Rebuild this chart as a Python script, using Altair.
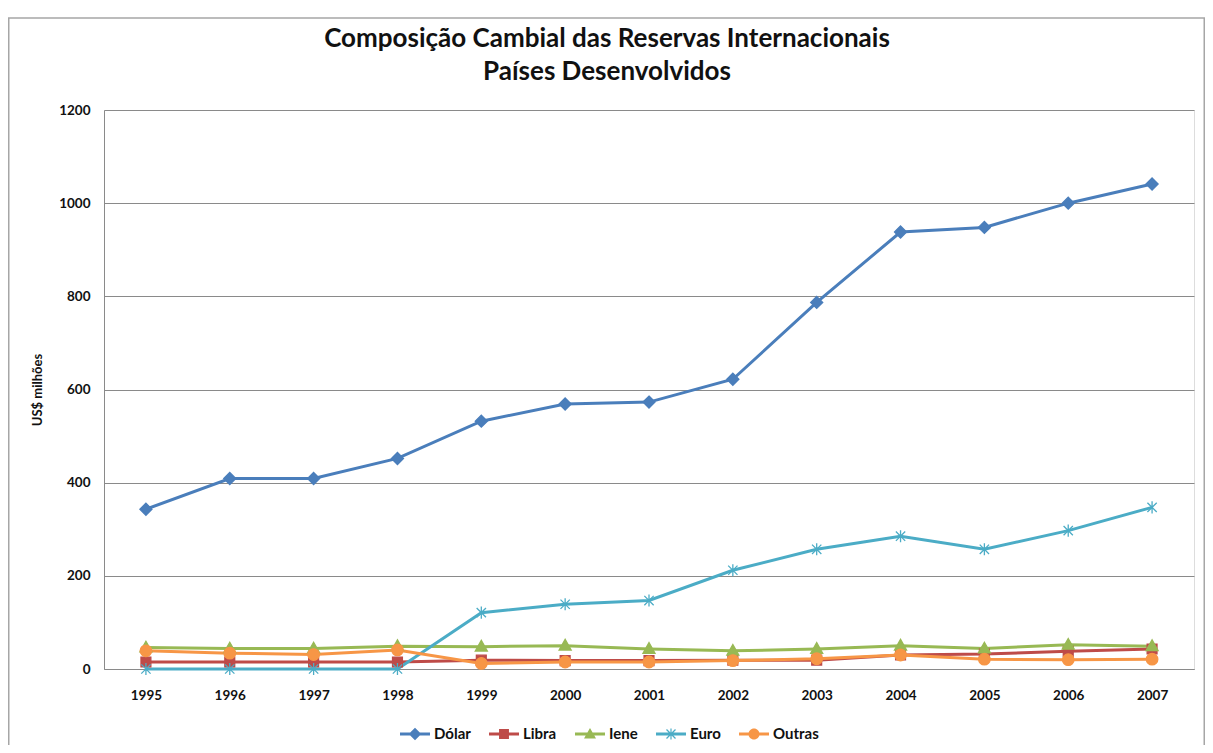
import altair as alt
import pandas as pd

anos = [str(a) for a in range(1995, 2008)]
series = ["Dólar", "Libra", "Iene", "Euro", "Outras"]
cores = ["#4A7EBB", "#BE4B48", "#98B954", "#4BACC6", "#F79646"]

dolar = [343, 409, 409, 452, 532, 569, 573, 622, 787, 938, 948, 1000, 1041]
libra = [15, 15, 15, 15, 19, 18, 18, 19, 19, 30, 32, 38, 43]
iene = [46, 44, 44, 49, 48, 50, 43, 39, 43, 50, 44, 52, 49]
euro = [0, 0, 0, 0, 121, 139, 147, 212, 257, 285, 257, 297, 347]
outras = [39, 34, 31, 41, 12, 15, 15, 18, 22, 30, 21, 20, 21]

valores = {"Dólar": dolar, "Libra": libra, "Iene": iene, "Euro": euro, "Outras": outras}
rows = []
for s in series:
    for a, v in zip(anos, valores[s]):
        rows.append({"serie": s, "ano": a, "valor": v})
df = pd.DataFrame(rows)

# marker shapes for the plot (unit box scaled by sqrt(size)/2)
marcadores = [
    "M0,-1.1L1.1,0L0,1.1L-1.1,0Z",
    "M-0.9,-0.9H0.9V0.9H-0.9Z",
    "M0,-1.15L1.1,0.8H-1.1Z",
    "M-0.85,-0.85L0.85,0.85M-0.85,0.85L0.85,-0.85M0,-1.1L0,1.1",
    "M1.05,0A1.05,1.05 0 1,1 -1.05,0A1.05,1.05 0 1,1 1.05,0Z",
]
# legend symbols: line segment + marker
linha = "M-1,-0.1H1V0.1H-1Z"
simbolos = [
    linha + "M0,-0.42L0.42,0L0,0.42L-0.42,0Z",
    linha + "M-0.33,-0.33H0.33V0.33H-0.33Z",
    linha + "M0,-0.4L0.4,0.3H-0.4Z",
    linha + "M-0.04,-0.36H0.04V0.36H-0.04Z"
    + "M-0.27,-0.33L0.33,0.27L0.27,0.33L-0.33,-0.27Z"
    + "M0.33,-0.27L-0.27,0.33L-0.33,0.27L0.27,-0.33Z",
    linha + "M0.37,0A0.37,0.37 0 1,1 -0.37,0A0.37,0.37 0 1,1 0.37,0Z",
]

FONT = "Lato"

x_enc = alt.X(
    "ano:O",
    scale=alt.Scale(type="point", padding=0.5),
    axis=alt.Axis(
        title=None, labelAngle=0, ticks=False, labelPadding=19,
        labelFont=FONT, labelFontSize=13.5, labelFontWeight="bold",
        labelColor="#111111", domainColor="#8a8a8a", grid=False,
    ),
)
y_enc = alt.Y(
    "valor:Q",
    scale=alt.Scale(domain=[0, 1200], nice=False),
    axis=alt.Axis(
        title="US$ milhões", values=[0, 200, 400, 600, 800, 1000, 1200],
        format="d",
        ticks=False, labelPadding=14, labelFont=FONT, labelFontSize=13.5,
        labelFontWeight="bold", labelColor="#111111",
        domainColor="#8a8a8a", gridColor="#8a8a8a", grid=True,
        titleFont=FONT, titleFontSize=13, titleFontWeight="bold",
        titleColor="#111111", titleAngle=270, titleX=-67, titleY=279.5,
        titleBaseline="middle", titleAlign="center",
    ),
)
cor_scale = alt.Scale(domain=series, range=cores)

base = alt.Chart(df)

linhas = base.mark_line(strokeWidth=3).encode(
    x=x_enc, y=y_enc,
    color=alt.Color("serie:N", scale=cor_scale, legend=None),
    detail="serie:N",
)

pontos = base.mark_point(filled=True, opacity=1, size=120, strokeWidth=1.3).encode(
    x=x_enc, y=y_enc,
    color=alt.Color("serie:N", scale=cor_scale, legend=None),
    stroke=alt.Stroke("serie:N", scale=cor_scale, legend=None),
    shape=alt.Shape("serie:N", scale=alt.Scale(domain=series, range=marcadores), legend=None),
)

legenda_cfg = dict(
    orient="none", legendX=296, legendY=609, direction="horizontal",
    title=None, symbolSize=900, symbolStrokeWidth=0, symbolOpacity=1,
    labelFont=FONT, labelFontSize=15, labelFontWeight="bold",
    labelColor="#111111", columnPadding=18, labelOffset=4,
)
legenda = base.mark_point(filled=True, opacity=0).encode(
    x=x_enc, y=y_enc,
    color=alt.Color("serie:N", scale=cor_scale, legend=alt.Legend(**legenda_cfg)),
    shape=alt.Shape("serie:N", scale=alt.Scale(domain=series, range=simbolos),
                    legend=alt.Legend(**legenda_cfg)),
)

moldura = alt.Chart(alt.Data(values=[{}])).mark_rect(
    fill=None, stroke="#a6a6a6", strokeWidth=1.5
).encode(
    x=alt.value(-95.25), x2=alt.value(1100.25),
    y=alt.value(-92), y2=alt.value(700),
)

chart = alt.layer(moldura, linhas, pontos, legenda).resolve_scale(
    color="independent", shape="independent", stroke="independent"
).properties(
    width=1090,
    height=559,
    padding={"left": 96, "top": 102, "right": 11, "bottom": 76},
    autosize=alt.AutoSizeParams(type="none"),
    title=alt.TitleParams(
        text=["Composição Cambial das Reservas Internacionais", "Países Desenvolvidos"],
        font=FONT, fontSize=26, fontWeight="bold", color="#111111",
        anchor="middle", frame="group", dx=-42, lineHeight=33, offset=-68,
    ),
).configure_view(stroke=None).configure(background="white")

chart.save("out.html", embed_options={"renderer": "svg", "actions": False})
